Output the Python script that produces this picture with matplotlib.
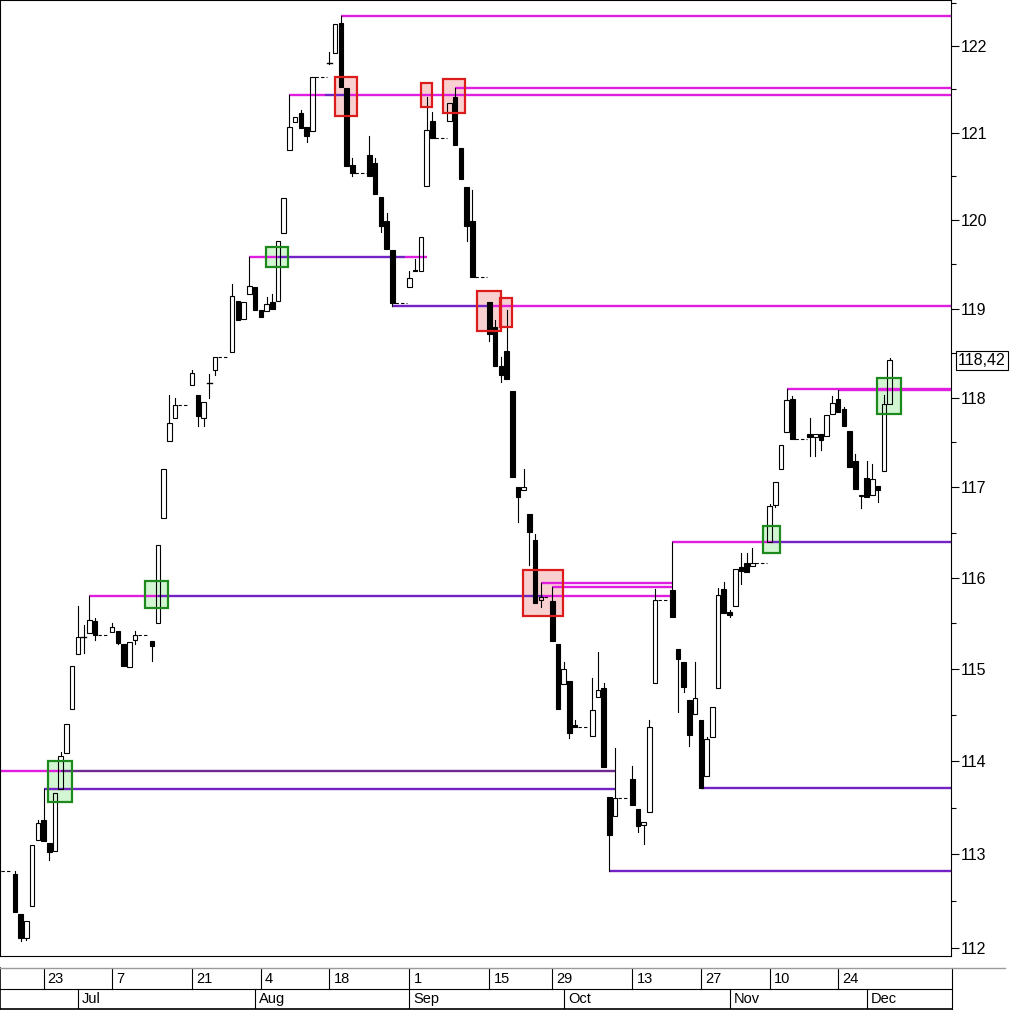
import matplotlib
matplotlib.use('Agg')
import matplotlib.pyplot as plt
import matplotlib.ticker as mticker
import matplotlib.transforms as mtrans
from matplotlib.patches import Rectangle
from matplotlib.lines import Line2D

plt.rcParams['font.family'] = ['Liberation Sans', 'DejaVu Sans']

# one slot per calendar day; empty slots are days without a bar
slot = [-3, 0, 1, 2, 3, 4, 5, 6, 7, 8, 9, 10, 11, 12, 13, 14, 17, 18, 19, 20, 21,
        24, 25, 26, 27, 28, 31, 32, 33, 34, 35, 38, 39, 40, 41, 42, 43, 44, 45, 46,
        47, 48, 49, 50, 51, 52, 55, 56, 57, 58, 59, 62, 63, 64, 65, 66, 69, 70, 71,
        72, 73, 76, 77, 78, 79, 80, 83, 84, 85, 86, 87, 88, 89, 90, 91, 92, 94, 95,
        96, 97, 98, 101, 102, 103, 104, 105, 108, 109, 110, 111, 112, 115, 116, 117,
        118, 119, 120, 121, 122, 123, 124, 125, 126, 127, 128, 129, 132, 133, 134,
        135, 136, 139, 140, 141, 142, 143, 144, 145, 146, 147, 148, 149, 150, 151,
        152, 153]
opens = [112.82, 112.79, 112.36, 112.11, 112.45, 113.15, 113.37, 113.12, 113.04, 113.70,
         114.09, 114.57, 115.17, 115.35, 115.40, 115.53, 115.41, 115.42, 115.27, 115.02,
         115.32, 115.31, 115.51, 116.66, 117.51, 117.77, 118.14, 118.03, 117.77, 118.16,
         118.31, 118.51, 119.08, 118.88, 119.16, 119.24, 118.98, 118.97, 119.07, 119.08,
         119.86, 120.80, 121.12, 121.23, 121.07, 121.02, 121.80, 121.92, 122.27, 121.51,
         120.63, 120.74, 120.65, 120.27, 119.99, 119.66, 119.24, 119.44, 119.43, 120.39,
         121.13, 121.13, 121.41, 120.82, 120.38, 119.99, 119.07, 118.79, 118.35, 118.52,
         118.07, 117.00, 116.97, 116.71, 116.42, 115.76, 115.75, 115.28, 114.84, 114.87,
         114.39, 114.27, 114.70, 114.80, 113.62, 113.41, 113.81, 113.49, 113.31, 113.45,
         114.85, 115.87, 115.22, 115.08, 114.67, 114.51, 114.45, 113.84, 114.26, 114.80,
         115.88, 115.63, 115.69, 116.12, 116.16, 116.13, 116.39, 116.80, 117.20, 117.62,
         117.98, 117.59, 117.56, 117.59, 117.57, 117.82, 117.98, 117.87, 117.63, 117.29,
         116.90, 117.10, 116.91, 117.01, 117.18, 117.93]
highs = [112.82, 112.82, 112.36, 112.29, 113.10, 113.37, 113.70, 113.12, 113.66, 114.10,
         114.40, 115.04, 115.69, 115.48, 115.80, 115.56, 115.51, 115.42, 115.27, 115.30,
         115.42, 115.31, 116.36, 117.20, 118.03, 117.99, 118.31, 118.03, 117.95, 118.26,
         118.46, 119.28, 119.08, 119.07, 119.58, 119.24, 118.98, 119.13, 119.17, 119.77,
         120.25, 121.43, 121.18, 121.26, 121.07, 121.64, 121.93, 122.25, 122.35, 121.51,
         120.71, 120.96, 120.71, 120.27, 120.08, 119.66, 119.43, 119.56, 119.81, 121.41,
         121.24, 121.34, 121.52, 120.82, 120.38, 120.35, 119.07, 118.87, 118.46, 118.98,
         118.07, 117.00, 117.20, 116.71, 116.48, 115.94, 115.90, 115.28, 115.08, 114.87,
         114.45, 114.90, 115.19, 114.85, 113.62, 114.14, 113.95, 113.49, 113.35, 114.45,
         115.88, 116.40, 115.22, 115.08, 114.67, 115.08, 114.45, 114.26, 114.59, 115.89,
         115.96, 115.65, 116.10, 116.27, 116.27, 116.33, 116.82, 117.06, 117.47, 118.10,
         118.02, 117.77, 117.59, 117.59, 117.80, 118.02, 118.09, 117.90, 117.63, 117.37,
         116.92, 117.29, 117.26, 117.01, 118.03, 118.44]
lows = [112.82, 112.38, 112.07, 112.08, 112.45, 113.15, 113.14, 112.94, 113.04, 113.70,
        114.09, 114.57, 115.17, 115.18, 115.40, 115.32, 115.41, 115.27, 115.04, 115.02,
        115.28, 115.09, 115.51, 116.66, 117.51, 117.77, 118.14, 117.68, 117.68, 118.00,
        118.25, 118.51, 118.87, 118.88, 119.16, 118.98, 118.90, 118.97, 118.99, 119.08,
        119.86, 120.80, 121.12, 121.06, 120.89, 121.02, 121.79, 121.92, 121.53, 120.62,
        120.50, 120.51, 120.30, 119.87, 119.67, 119.03, 119.24, 119.42, 119.43, 120.39,
        120.94, 121.13, 120.86, 120.47, 119.76, 119.36, 118.63, 118.35, 118.18, 118.21,
        117.11, 116.62, 116.97, 116.14, 115.72, 115.68, 115.31, 114.57, 114.84, 114.25,
        114.37, 114.27, 114.70, 113.94, 112.82, 113.41, 113.53, 113.24, 113.11, 113.45,
        114.85, 115.57, 114.53, 114.75, 114.17, 114.51, 113.71, 113.84, 114.26, 114.80,
        115.61, 115.57, 115.69, 115.93, 116.07, 116.13, 116.39, 116.78, 117.20, 117.62,
        117.54, 117.35, 117.35, 117.41, 117.57, 117.82, 117.84, 117.68, 117.23, 116.98,
        116.77, 116.89, 116.91, 116.84, 117.18, 117.93]
closes = [112.82, 112.38, 112.11, 112.29, 113.10, 113.34, 113.14, 113.02, 113.66, 114.06,
          114.40, 115.04, 115.35, 115.35, 115.54, 115.37, 115.46, 115.29, 115.04, 115.30,
          115.37, 115.25, 116.36, 117.20, 117.72, 117.92, 118.27, 117.79, 117.95, 118.16,
          118.46, 119.14, 118.87, 119.07, 119.26, 118.98, 118.91, 119.05, 118.99, 119.77,
          120.25, 121.07, 121.18, 121.06, 120.96, 121.64, 121.80, 122.25, 121.53, 120.62,
          120.54, 120.51, 120.30, 119.94, 119.67, 119.06, 119.35, 119.42, 119.81, 121.03,
          120.94, 121.34, 120.86, 120.47, 119.94, 119.36, 118.71, 118.35, 118.25, 118.21,
          117.11, 116.89, 117.00, 116.51, 115.72, 115.79, 115.31, 114.57, 115.00, 114.31,
          114.37, 114.56, 114.77, 113.94, 113.21, 113.60, 113.53, 113.30, 113.35, 114.37,
          115.76, 115.57, 115.11, 114.81, 114.29, 114.69, 113.71, 114.24, 114.59, 115.81,
          115.61, 115.59, 116.10, 116.08, 116.07, 116.16, 116.79, 117.06, 117.47, 117.97,
          117.54, 117.56, 117.59, 117.53, 117.80, 117.94, 117.84, 117.68, 117.23, 116.98,
          116.92, 116.89, 117.09, 116.97, 117.93, 118.42]
last_price = 118.42

# horizontal support / resistance lines (None = runs to the chart edge)
line_level = [122.35, 121.52, 121.43, 121.43, 121.43, 119.58, 119.58, 119.58, 119.03, 119.03,
              118.10, 118.085, 116.40, 116.40, 115.94, 115.90, 115.80, 115.80, 115.80,
              113.90, 113.90, 113.70, 113.71, 112.82]
line_from = [57, 77, 48, 54.2, 58, 41, 46, 68.2, 66, 83,
             135, 144, 115, 132.4, 92, 94, 13, 25, 92.4,
             None, 8, 5, 120, 104]
line_to = [None, None, 54.2, 58, None, 46, 68.2, 72.1, 83, None,
           None, None, 132.4, None, 115, 115, 25, 92.4, 115,
           8, 105, 105, None, None]
line_kind = ['res', 'res', 'res', 'sup', 'res', 'res', 'sup', 'res', 'sup', 'res',
             'res', 'res', 'res', 'sup', 'res', 'res', 'res', 'sup', 'res',
             'res', 'flip', 'sup', 'sup', 'sup']

# breakout (green) and breakdown (red) markers
box_kind = ['up', 'up', 'up', 'up', 'up', 'down', 'down', 'down', 'down', 'down', 'down']
box_left = [5.8, 22.7, 43.9, 130.9, 150.8, 55.9, 71.0, 74.9, 80.9, 84.8, 88.9]
box_right = [9.9, 26.8, 47.8, 133.8, 155.0, 59.9, 72.9, 78.8, 85.0, 86.9, 95.9]
box_low = [113.56, 115.67, 119.47, 116.27, 117.82, 121.19, 121.30, 121.23, 118.75, 118.79, 115.58]
box_high = [114.00, 115.97, 119.70, 116.57, 118.22, 121.64, 121.57, 121.62, 119.20, 119.12, 116.09]

day_labels = ['23', '7', '21', '4', '18', '1', '15', '29', '13', '27', '10', '24']
day_slots = [5, 17, 31, 43, 55, 69, 83, 94, 108, 120, 132, 144]
month_labels = ['Jul', 'Aug', 'Sep', 'Oct', 'Nov', 'Dec']
month_slots = [11, 42, 69, 96, 125, 149]

W, H = 1014, 1010
X0, DX = 15, 5.716          # pixel of slot 0 and pixels per slot
colors = {'res': '#e01ee0', 'sup': '#7422c6', 'flip': '#6c2a8e'}

fig = plt.figure(figsize=(W / 100, H / 100), dpi=100)
ax = fig.add_axes([0, 1 - 956 / H, 951 / W, 956 / H])
xmin, xmax = (0 - X0) / DX, (951 - X0) / DX
ax.set_xlim(xmin, xmax)
ax.set_yscale('log')
ax.set_ylim(111.915, 122.533)

# boxes (fill)
for k, l, r, lo, hi in zip(box_kind, box_left, box_right, box_low, box_high):
    fc = '#d2f6d2' if k == 'up' else '#f9d0d0'
    ec = '#1e8a1e' if k == 'up' else '#dc1c1c'
    ax.add_patch(Rectangle((l, lo), r - l, hi - lo, fc=fc, ec='none', zorder=1))
    ax.add_patch(Rectangle((l, lo), r - l, hi - lo, fc='none', ec=ec, lw=1.6, zorder=6))

# support / resistance lines
for lv, a, b, k in zip(line_level, line_from, line_to, line_kind):
    a = xmin if a is None else a
    b = xmax if b is None else b
    ax.plot([a, b], [lv, lv], color=colors[k], lw=1.7, solid_capstyle='butt', zorder=2)

# candles
prev_s, prev_c = None, None
for s, o, h, l, c in zip(slot, opens, highs, lows, closes):
    if prev_s is not None and s - prev_s > 1:
        ax.plot([prev_s + 0.5, s - 0.5], [prev_c, prev_c], color='black', lw=0.8,
                dashes=(3, 2), zorder=3)
    prev_s, prev_c = s, c
    top, bot = max(o, c), min(o, c)
    ax.plot([s, s], [top, h], color='black', lw=0.8, zorder=3)
    ax.plot([s, s], [l, bot], color='black', lw=0.8, zorder=3)
    if top - bot < 0.012:
        ax.plot([s - 0.4, s + 0.4], [o, o], color='black', lw=1.0, zorder=4)
        continue
    fc = 'black' if c < o else 'none'
    ax.add_patch(Rectangle((s - 0.4, bot), 0.8, top - bot, fc=fc, ec='black',
                           lw=0.8, zorder=4))

# axes styling
ax.set_xticks([])
ax.yaxis.tick_right()
ticks = list(range(112, 123))
ax.yaxis.set_major_locator(mticker.FixedLocator(ticks))
ax.yaxis.set_major_formatter(mticker.FixedFormatter([str(t) for t in ticks]))
ax.yaxis.set_minor_locator(mticker.FixedLocator([t + 0.5 for t in range(111, 123)]))
ax.yaxis.set_minor_formatter(mticker.NullFormatter())
ax.tick_params(axis='y', which='major', direction='out', length=6, width=0.8,
               pad=1, labelsize=11.5)
ax.tick_params(axis='y', which='minor', direction='out', length=3.5, width=0.8)
for sp in ax.spines.values():
    sp.set_linewidth(0.8)

trans = mtrans.blended_transform_factory(ax.transAxes, ax.transData)
ax.text(1.0075, last_price, '118,42', transform=trans, ha='left', va='center',
        fontsize=11.5, bbox=dict(boxstyle='square,pad=0.12', fc='white', ec='black', lw=0.8))

# date strip
dax = fig.add_axes([0, 1 - 1009 / H, 952 / W, 41 / H])
dxmax = (952 - X0) / DX
dax.set_xlim(xmin, dxmax)
dax.set_ylim(0, 2)
dax.axis('off')
dax.plot([xmin, dxmax], [1, 1], color='black', lw=0.8, clip_on=False)
dax.plot([xmin, dxmax], [0, 0], color='black', lw=1.2, clip_on=False)
dax.plot([xmin, xmin], [0, 2], color='black', lw=1.2, clip_on=False)
dax.plot([dxmax, dxmax], [0, 2], color='black', lw=0.8, clip_on=False)
for s, lab in zip(day_slots, day_labels):
    dax.plot([s, s], [1, 2], color='black', lw=0.8)
    dax.annotate(lab, (s, 1.5), xytext=(3, -0.5), textcoords='offset points',
                 ha='left', va='center', fontsize=10.5)
for s, lab in zip(month_slots, month_labels):
    dax.plot([s, s], [0, 1], color='black', lw=0.8)
    dax.annotate(lab, (s, 0.5), xytext=(3, -0.5), textcoords='offset points',
                 ha='left', va='center', fontsize=10.5)
fig.add_artist(Line2D([0, 1005 / W], [1 - 968 / H, 1 - 968 / H], color='#9a9a9a', lw=1.0))

fig.savefig('out.png', dpi=100)
